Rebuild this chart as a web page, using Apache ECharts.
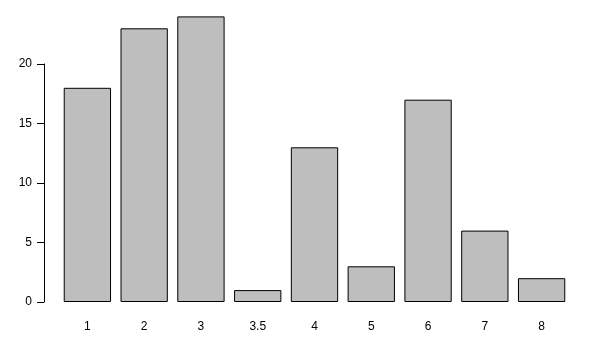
<!DOCTYPE html>
<html><head><meta charset="utf-8">
<script src="https://cdn.jsdelivr.net/npm/echarts@6/dist/echarts.min.js"></script>
<style>html,body{margin:0;padding:0;background:#fff}#c{width:600px;height:350px}</style>
</head><body><div id="c"></div>
<script>
const categories = ["1", "2", "3", "3.5", "4", "5", "6", "7", "8"];
const counts = [18, 23, 24, 1, 13, 3, 17, 6, 2];
const yTicks = [0, 5, 10, 15, 20];

const chart = echarts.init(document.getElementById('c'), null, {renderer: 'canvas'});
chart.setOption({
  animation: false,
  backgroundColor: '#ffffff',
  grid: {left: 59, right: 30, top: 64, bottom: 48, containLabel: false},
  xAxis: {
    type: 'category',
    data: categories,
    axisLine: {show: false},
    axisTick: {show: false},
    axisLabel: {color: '#000', fontSize: 12, fontFamily: 'Liberation Sans, Arial, sans-serif', margin: 19}
  },
  yAxis: {
    type: 'value',
    min: yTicks[0],
    max: yTicks[yTicks.length - 1],
    interval: 5,
    offset: 15,
    splitLine: {show: false},
    axisLine: {show: true, lineStyle: {color: '#000', width: 1}},
    axisTick: {show: true, length: 7, lineStyle: {color: '#000'}},
    axisLabel: {color: '#000', fontSize: 12, fontFamily: 'Liberation Sans, Arial, sans-serif', margin: 12}
  },
  series: [{
    type: 'bar',
    data: counts,
    clip: false,
    barCategoryGap: '16.67%',
    itemStyle: {color: '#bebebe', borderColor: '#000', borderWidth: 1}
  }]
});
</script></body></html>
